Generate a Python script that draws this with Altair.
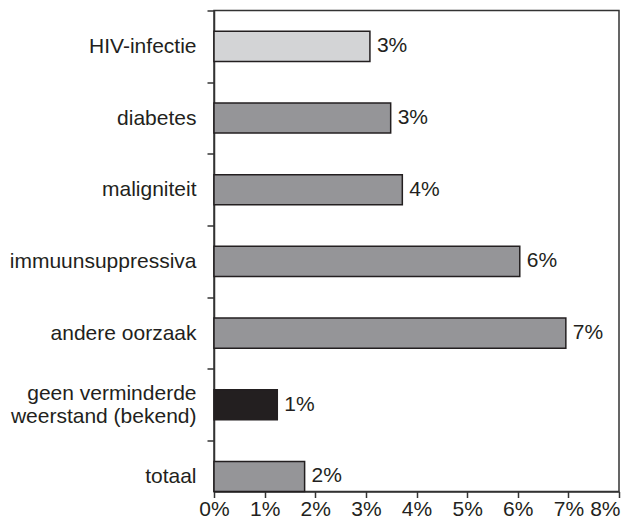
import altair as alt
import pandas as pd

categories = [
    "HIV-infectie",
    "diabetes",
    "maligniteit",
    "immuunsuppressiva",
    "andere oorzaak",
    "geen verminderde\nweerstand (bekend)",
    "totaal",
]
values = [3.08, 3.49, 3.72, 6.04, 6.95, 1.25, 1.79]
value_labels = ["3%", "3%", "4%", "6%", "7%", "1%", "2%"]
bar_colors = ["#d3d4d6", "#959598", "#959598", "#959598", "#959598", "#231f20", "#959598"]
x_ticks = [0, 1, 2, 3, 4, 5, 6, 7, 8]

df = pd.DataFrame({
    "cat": categories,
    "pos": list(range(len(categories))),
    "value": values,
    "label": value_labels,
    "color": bar_colors,
})

FONT = "Liberation Sans"
TEXT = "#231f20"
LINE = "#333333"
LINE_H = 23


def lit(c):
    if "\n" in c:
        return "[" + ",".join("'" + p + "'" for p in c.split("\n")) + "]"
    return "'" + c + "'"


y_label_expr = ""
for i, c in enumerate(categories):
    y_label_expr += f"datum.value == {i} ? {lit(c)} : "
y_label_expr += "''"

multi_idx = [i for i, c in enumerate(categories) if "\n" in c]
multi_test = " || ".join(f"datum.value == {i}" for i in multi_idx) or "false"

y_tick_values = [i - 0.5 for i in range(len(categories))] + list(range(len(categories)))

y_scale = alt.Scale(domain=[-0.5, len(categories) - 0.79], reverse=True, nice=False, zero=False)
x_scale = alt.Scale(domain=[0, 8], nice=False)

last = max(x_ticks)

x_axis = alt.Axis(
    values=x_ticks,
    labelExpr="datum.value + '%'",
    title=None,
    grid=False,
    tickSize=6,
    labelPadding=1,
    labelFontSize=21,
    labelFont=FONT,
    labelColor=TEXT,
    labelOverlap=False,
    labelAlign={"condition": {"test": f"datum.value == {last}", "value": "right"}, "value": "center"},
    labelOffset={"condition": {"test": f"datum.value == {last}", "value": 1}, "value": 0},
    domainColor=LINE,
    domainWidth=1.5,
    tickColor=LINE,
    tickWidth=1.5,
)

y_axis = alt.Axis(
    values=y_tick_values,
    labelExpr=y_label_expr,
    title=None,
    grid=False,
    tickSize=7,
    labelPadding=11,
    labelLimit=400,
    labelFontSize=21,
    labelLineHeight=LINE_H,
    labelFont=FONT,
    labelColor=TEXT,
    labelOverlap=False,
    labelOffset={"condition": {"test": multi_test, "value": -LINE_H / 2}, "value": 0},
    tickOpacity={"condition": {"test": "datum.value % 1 == 0", "value": 0}, "value": 1},
    domainColor=LINE,
    domainWidth=1.5,
    tickColor=LINE,
    tickWidth=1.5,
)

base = alt.Chart(df).transform_calculate(
    lo="datum.pos - 0.21",
    hi="datum.pos + 0.21",
    zero="0",
)

bars = base.mark_rect(stroke=TEXT, strokeWidth=1.5).encode(
    x=alt.X("zero:Q", scale=x_scale, axis=x_axis),
    x2="value:Q",
    y=alt.Y("lo:Q", scale=y_scale, axis=y_axis),
    y2="hi:Q",
    color=alt.Color("color:N", scale=None),
)

labels = base.mark_text(align="left", baseline="middle", dx=7, fontSize=21, font=FONT, color=TEXT).encode(
    x=alt.X("value:Q", scale=x_scale, axis=x_axis),
    y=alt.Y("pos:Q", scale=y_scale, axis=y_axis),
    text="label:N",
)

chart = alt.layer(bars, labels).properties(
    width=405,
    height=481,
    background="white",
    autosize=alt.AutoSizeParams(type="none"),
    padding={"left": 206, "top": 2.5, "right": 2, "bottom": 28.5},
).configure_view(
    stroke=LINE, strokeWidth=1.5
)

chart.save("out.html", embed_options={"renderer": "svg", "actions": False})
